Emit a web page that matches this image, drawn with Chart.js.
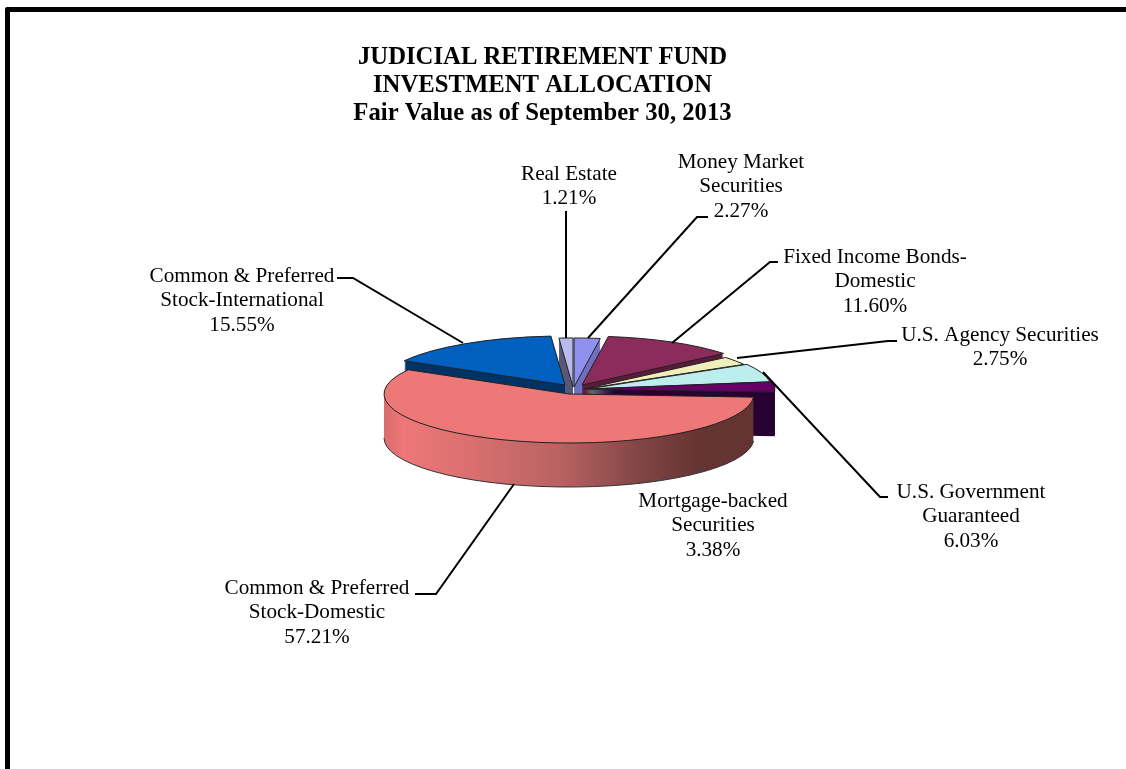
<!DOCTYPE html>
<html>
<head>
<meta charset="utf-8">
<title>Judicial Retirement Fund</title>
<script src="https://cdn.jsdelivr.net/npm/chart.js@4"></script>
<style>
  html, body { margin: 0; padding: 0; background: #fff; overflow: hidden; }
  #frame { position: absolute; left: 5px; top: 7px; width: 2000px; height: 2000px; border: 5px solid #000; border-radius: 2px; }
  canvas { position: absolute; left: 0; top: 0; }
</style>
</head>
<body>
<div id="frame"></div>
<canvas id="myChart" width="1126" height="769"></canvas>
<script>
const titleLines = ['JUDICIAL RETIREMENT FUND', 'INVESTMENT ALLOCATION', 'Fair Value as of September 30, 2013'];

const categories = [
  ['Real Estate'],
  ['Money Market', 'Securities'],
  ['Fixed Income Bonds-', 'Domestic'],
  ['U.S. Agency Securities'],
  ['U.S. Government', 'Guaranteed'],
  ['Mortgage-backed', 'Securities'],
  ['Common & Preferred', 'Stock-Domestic'],
  ['Common & Preferred', 'Stock-International']
];
const allocation = [1.21, 2.27, 11.60, 2.75, 6.03, 3.38, 57.21, 15.55];

const topColors = ['#b9bbee', '#9090ee', '#8b2c5c', '#f0eebb', '#bdeeee', '#660066', '#ee7777', '#0060c0'];
const wallColors = ['#5a5a78', '#7070c0', '#5a1c3c', '#8a8860', '#5f8a8a', '#2a0033', '#663333', '#003366'];

// exploded slices: how far each one sits from the pie centre, in px
const sliceShift = [[4, -7], [5, -7], [13, -9], [15, -5], [18, -5], [21, -5], [0, 0], [-4, -9]];
// back to front
const drawOrder = [0, 1, 7, 2, 3, 4, 5, 6];

// text centre, first line y, leader line
const callouts = [
  { x: 569, y: 174, line: [[566, 211], [566, 338]] },
  { x: 741, y: 162, line: [[708, 217], [697, 217], [588, 338]] },
  { x: 875, y: 257, line: [[778, 262], [770, 262], [672, 343]] },
  { x: 1000, y: 335, line: [[897, 341], [888, 341], [737, 358]] },
  { x: 971, y: 492, line: [[888, 497], [880, 497], [763, 372]] },
  { x: 713, y: 501, line: [] },
  { x: 317, y: 588, line: [[415, 594], [436, 594], [514, 484]] },
  { x: 242, y: 276, line: [[337, 278], [353, 278], [463, 343]] }
];

const TILT = 0.265;
const DEPTH = 44;

function slicePath(ctx, arc, dx, dy) {
  const x = arc.x + dx;
  const y = arc.y + dy;
  ctx.beginPath();
  ctx.moveTo(x, y);
  ctx.ellipse(x, y, arc.outerRadius, arc.outerRadius * TILT, 0, arc.startAngle, arc.endAngle);
  ctx.closePath();
}

function redWall(ctx, arc) {
  const left = arc.x - arc.outerRadius;
  const g = ctx.createLinearGradient(left, 0, left + arc.outerRadius * 2, 0);
  g.addColorStop(0, '#d86c6c');
  g.addColorStop(0.05, '#ee7777');
  g.addColorStop(0.22, '#dc7070');
  g.addColorStop(0.48, '#b86262');
  g.addColorStop(0.7, '#7f4444');
  g.addColorStop(0.85, '#663333');
  g.addColorStop(1, '#663333');
  return g;
}

const pie3d = {
  id: 'pie3d',
  beforeDatasetsDraw(chart) {
    const ctx = chart.ctx;
    const arcs = chart.getDatasetMeta(0).data;
    ctx.save();
    drawOrder.forEach(function (i) {
      const arc = arcs[i];
      const dx = sliceShift[i][0];
      const dy = sliceShift[i][1];
      // side wall, stacked downwards
      ctx.fillStyle = i === 6 ? redWall(ctx, arc) : wallColors[i];
      for (let d = DEPTH; d > 0; d--) {
        slicePath(ctx, arc, dx, dy + d);
        ctx.fill();
      }
      if (i === 6) {
        // only the rim of the big slice gets an outline at the bottom
        ctx.beginPath();
        ctx.ellipse(arc.x + dx, arc.y + dy + DEPTH, arc.outerRadius, arc.outerRadius * TILT, 0, arc.startAngle, Math.PI);
        ctx.strokeStyle = '#333';
        ctx.lineWidth = 1;
        ctx.stroke();
      }
      slicePath(ctx, arc, dx, dy);
      ctx.fillStyle = topColors[i];
      ctx.fill();
      ctx.strokeStyle = '#222';
      ctx.lineWidth = 1;
      ctx.stroke();
    });
    ctx.restore();
    return false;
  },
  afterDraw(chart) {
    const ctx = chart.ctx;
    ctx.save();
    ctx.fillStyle = '#000';
    ctx.textAlign = 'center';
    ctx.textBaseline = 'middle';

    ctx.font = 'bold 24.7px "Liberation Serif"';
    titleLines.forEach(function (line, i) {
      ctx.fillText(line, 542.5, 58 + i * 28);
    });

    ctx.font = '21.2px "Liberation Serif"';
    categories.forEach(function (lines, i) {
      const c = callouts[i];
      lines.concat(allocation[i].toFixed(2) + '%').forEach(function (line, n) {
        ctx.fillText(line, c.x, c.y + n * 24.7);
      });
      if (c.line.length) {
        ctx.beginPath();
        c.line.forEach(function (p, n) {
          if (n === 0) ctx.moveTo(p[0], p[1]);
          else ctx.lineTo(p[0], p[1]);
        });
        ctx.strokeStyle = '#000';
        ctx.lineWidth = 2;
        ctx.stroke();
      }
    });
    ctx.restore();
  }
};

const ctx = document.getElementById('myChart').getContext('2d');
new Chart(ctx, {
  type: 'pie',
  data: {
    labels: categories.map(function (c) { return c.join(' '); }),
    datasets: [{ data: allocation, backgroundColor: topColors, borderWidth: 0 }]
  },
  options: {
    responsive: false,
    animation: false,
    rotation: -allocation[0] * 3.6,
    layout: { padding: { left: 384, right: 372, top: 209, bottom: 190 } },
    plugins: { legend: { display: false }, tooltip: { enabled: false } }
  },
  plugins: [pie3d]
});
</script>
</body>
</html>
